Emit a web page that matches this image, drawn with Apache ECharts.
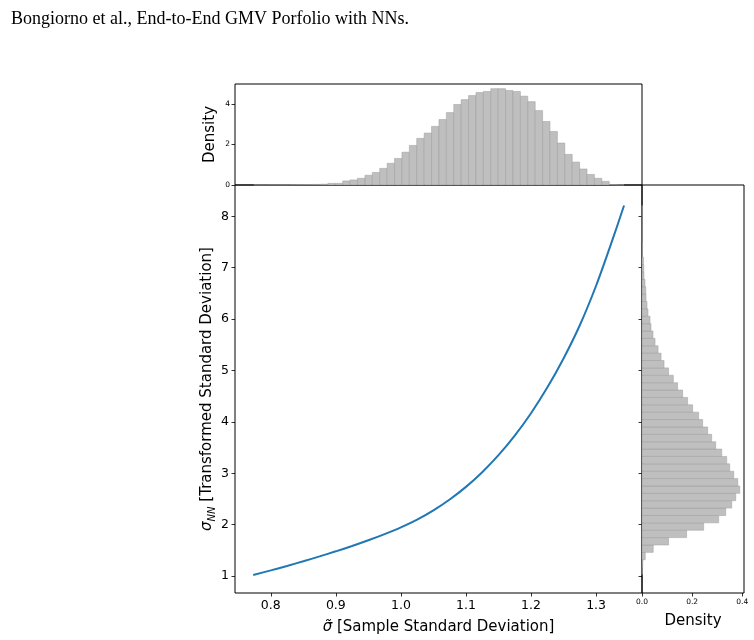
<!DOCTYPE html>
<html>
<head>
<meta charset="utf-8">
<script src="https://cdn.jsdelivr.net/npm/echarts@6/dist/echarts.min.js"></script>
<style>
  html, body { margin: 0; padding: 0; background: #fff; }
  #chart { width: 754px; height: 640px; }
</style>
</head>
<body>
<div id="chart"></div>
<script>
// curve: sample std -> transformed std
var curveX = [0.773, 0.80, 0.825, 0.85, 0.875, 0.90, 0.925, 0.95, 0.975, 1.00, 1.025,
  1.05, 1.075, 1.10, 1.125, 1.15, 1.175, 1.20, 1.225, 1.25, 1.275, 1.30, 1.325, 1.343];
var curveY = [1.02, 1.11, 1.197, 1.288, 1.382, 1.481, 1.585, 1.696, 1.816, 1.947, 2.098,
  2.278, 2.489, 2.735, 3.021, 3.352, 3.733, 4.169, 4.667, 5.234, 5.880, 6.649, 7.536, 8.21];

// top histogram (sample std), 50 bins
var topBinStart = 0.774;
var topBinWidth = 0.01138;
var topDensity = [0.005, 0.005, 0.008, 0.01, 0.01, 0.015, 0.02, 0.025, 0.03, 0.04,
  0.08, 0.08, 0.2, 0.25, 0.33, 0.48, 0.62, 0.82, 1.07, 1.31,
  1.62, 1.95, 2.30, 2.56, 2.89, 3.23, 3.57, 3.97, 4.21, 4.41,
  4.56, 4.61, 4.75, 4.75, 4.66, 4.61, 4.38, 4.11, 3.67, 3.13,
  2.64, 2.07, 1.51, 1.13, 0.79, 0.52, 0.33, 0.18, 0.02, 0.01];

// right histogram (transformed std), 50 bins, bottom up
var rightBinStart = 1.03;
var rightBinWidth = 0.1436;
var rightDensity = [0.001, 0.003, 0.013, 0.045, 0.106, 0.178, 0.246, 0.306, 0.334, 0.358,
  0.374, 0.390, 0.382, 0.366, 0.350, 0.338, 0.318, 0.294, 0.278, 0.262,
  0.242, 0.226, 0.202, 0.182, 0.162, 0.142, 0.125, 0.106, 0.088, 0.076,
  0.064, 0.052, 0.044, 0.036, 0.032, 0.024, 0.020, 0.016, 0.015, 0.012,
  0.008, 0.007, 0.006, 0.002, 0.002, 0.001, 0.001, 0.001, 0.001, 0.001];

var xTicks = [0.8, 0.9, 1.0, 1.1, 1.2, 1.3];
var yTicks = [1, 2, 3, 4, 5, 6, 7, 8];
var topTicks = [0, 2, 4];
var rightTicks = [0, 0.2, 0.4];

var font = "DejaVu Sans";
var barFill = "#bfbfbf";
var barEdge = "#9c9c9c";

var curveData = curveX.map(function (x, i) { return [x, curveY[i]]; });
var topData = topDensity.map(function (d, i) {
  return [topBinStart + i * topBinWidth, topBinStart + (i + 1) * topBinWidth, d];
});
var rightData = rightDensity.map(function (d, i) {
  return [rightBinStart + i * rightBinWidth, rightBinStart + (i + 1) * rightBinWidth, d];
});

var tick = { show: true, inside: false, length: 3.5, lineStyle: { color: "#000", width: 0.8 } };

var chart = echarts.init(document.getElementById("chart"));
chart.setOption({
  animation: false,
  title: {
    text: "Bongiorno et al., End-to-End GMV Porfolio with NNs.",
    left: 6, top: 5,
    textStyle: { fontFamily: "Liberation Serif", fontWeight: "normal", fontSize: 18, color: "#000" }
  },
  grid: [
    { left: 235, top: 185, width: 407, height: 408, show: true, borderColor: "#000", borderWidth: 1 },
    { left: 235, top: 84, width: 407, height: 101, show: true, borderColor: "#000", borderWidth: 1 },
    { left: 642, top: 185, width: 102, height: 408, show: true, borderColor: "#000", borderWidth: 1 }
  ],
  xAxis: [
    {
      gridIndex: 0, type: "value", min: 0.745, max: 1.3706,
      axisLine: { show: false }, splitLine: { show: false },
      axisTick: Object.assign({ customValues: xTicks }, tick),
      axisLabel: { customValues: xTicks, fontFamily: font, fontSize: 12.5, color: "#000", margin: 6,
        formatter: function (v) { return v.toFixed(1); } },
      name: "{i|σ̃} [Sample Standard Deviation]",
      nameLocation: "middle", nameGap: 27, nameMoveOverlap: false,
      nameTextStyle: { fontFamily: font, fontSize: 15, color: "#000",
        rich: { i: { fontFamily: font, fontSize: 15, fontStyle: "italic", color: "#000" } } }
    },
    {
      gridIndex: 1, type: "value", min: 0.745, max: 1.3706,
      axisLine: { show: false }, splitLine: { show: false },
      axisTick: { show: false }, axisLabel: { show: false }
    },
    {
      gridIndex: 2, type: "value", min: 0, max: 0.407,
      axisLine: { show: false }, splitLine: { show: false },
      axisTick: Object.assign({ customValues: rightTicks }, tick),
      axisLabel: { customValues: rightTicks, fontFamily: font, fontSize: 7.5, color: "#000", margin: 5,
        formatter: function (v) { return v.toFixed(1); } },
      name: "Density", nameLocation: "middle", nameGap: 21, nameMoveOverlap: false,
      nameTextStyle: { fontFamily: font, fontSize: 15, color: "#000" }
    }
  ],
  yAxis: [
    {
      gridIndex: 0, type: "value", min: 0.67, max: 8.61,
      axisLine: { show: false }, splitLine: { show: false },
      axisTick: Object.assign({ customValues: yTicks }, tick),
      axisLabel: { customValues: yTicks, fontFamily: font, fontSize: 12.5, color: "#000", margin: 6 },
      name: "{s|σ}{sub|NN}{t| [Transformed Standard Deviation]}",
      nameLocation: "middle", nameGap: 18, nameRotate: 90, nameMoveOverlap: false,
      nameTextStyle: {
        fontFamily: font, fontSize: 15, color: "#000",
        rich: {
          s: { fontFamily: font, fontSize: 15, fontStyle: "italic", color: "#000", lineHeight: 20, verticalAlign: "middle" },
          sub: { fontFamily: font, fontSize: 10, fontStyle: "italic", color: "#000", lineHeight: 10, verticalAlign: "bottom" },
          t: { fontFamily: font, fontSize: 15, color: "#000", lineHeight: 20, verticalAlign: "middle" }
        }
      }
    },
    {
      gridIndex: 1, type: "value", min: 0, max: 4.98,
      axisLine: { show: false }, splitLine: { show: false },
      axisTick: Object.assign({ customValues: topTicks }, tick),
      axisLabel: { customValues: topTicks, fontFamily: font, fontSize: 7.5, color: "#000", margin: 5 },
      name: "Density", nameLocation: "middle", nameGap: 17, nameRotate: 90, nameMoveOverlap: false,
      nameTextStyle: { fontFamily: font, fontSize: 15, color: "#000" }
    },
    {
      gridIndex: 2, type: "value", min: 0.67, max: 8.61,
      axisLine: { show: false }, splitLine: { show: false },
      axisTick: Object.assign({ customValues: yTicks }, tick),
      axisLabel: { show: false }
    }
  ],
  series: [
    {
      type: "line", xAxisIndex: 0, yAxisIndex: 0,
      data: curveData, smooth: 0.3, showSymbol: false,
      lineStyle: { color: "#1f77b4", width: 2 }
    },
    {
      type: "custom", xAxisIndex: 1, yAxisIndex: 1,
      data: topData,
      renderItem: function (params, api) {
        var p0 = api.coord([api.value(0), api.value(2)]);
        var p1 = api.coord([api.value(1), 0]);
        return {
          type: "rect",
          shape: { x: p0[0], y: p0[1], width: p1[0] - p0[0], height: p1[1] - p0[1] },
          style: { fill: barFill, stroke: barEdge, lineWidth: 0.5 }
        };
      }
    },
    {
      type: "custom", xAxisIndex: 2, yAxisIndex: 2,
      data: rightData,
      renderItem: function (params, api) {
        var p0 = api.coord([0, api.value(1)]);
        var p1 = api.coord([api.value(2), api.value(0)]);
        return {
          type: "rect",
          shape: { x: p0[0], y: p0[1], width: p1[0] - p0[0], height: p1[1] - p0[1] },
          style: { fill: barFill, stroke: barEdge, lineWidth: 0.5 }
        };
      }
    }
  ]
});
</script>
</body>
</html>
